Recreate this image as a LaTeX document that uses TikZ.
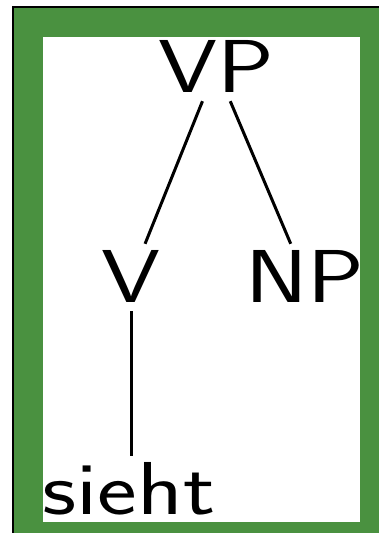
\documentclass[tikz,border=0pt]{standalone}
\usepackage{fontspec}
% Light sans face for the tree labels, set a little wider than normal
\newfontfamily\treefont{lmsans17-regular.otf}[FakeStretch=1.26]
\definecolor{framegreen}{RGB}{74,145,64}
\begin{document}
\begin{tikzpicture}[x=1pt,y=1pt,
  cat/.style={font=\treefont\fontsize{75}{85}\selectfont, anchor=base,
    inner xsep=0pt, inner ysep=8pt, text height=51pt, text depth=0pt},
  branch/.style={line width=3pt}]
\useasboundingbox (0,0) rectangle (379,533);
% green frame with its dark outline, and the white panel inside
\draw[line width=2pt, fill=framegreen] (13,526) rectangle (400,-20);
\fill[white] (43,496) rectangle (360,11);
% tree
\node[cat] (VP) at (216,440) {VP};
\node[cat] (V) at (131.5,230) {V};
\node[cat] (NP) at (305,230) {NP};
\node[cat] (sieht) at (129,18) {sieht};
\draw[branch] (VP) -- (V);
\draw[branch] (VP) -- (NP);
\draw[branch] (V.south) -- (V.south |- sieht.north);
\end{tikzpicture}
\end{document}
